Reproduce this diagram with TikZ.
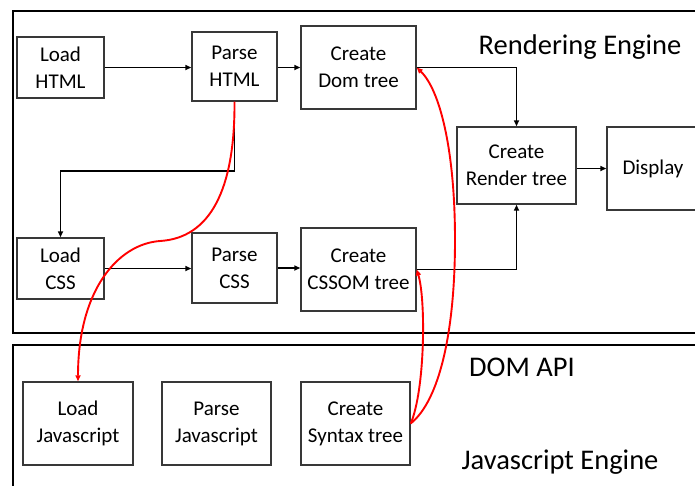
\documentclass[tikz,border=0pt]{standalone}
\usepackage{fontspec}
\setmainfont{Carlito}
\usetikzlibrary{arrows.meta}
\begin{document}
\begin{tikzpicture}[x=1pt,y=-1pt,
  stepbox/.style={draw=black!78,line width=1.4pt,fill=white,inner sep=0pt,align=center,
    font=\fontsize{21}{27}\selectfont},
  frame/.style={draw=black,line width=2.3pt},
  arr/.style={draw=black,line width=1.9pt,-{Triangle[length=6pt,width=5pt]}},
  redarr/.style={draw=red,line width=1.9pt,-{Triangle[length=6pt,width=5pt]}},
  title/.style={font=\fontsize{28.5}{34}\selectfont}]
\useasboundingbox (0,0) rectangle (695,485);

% engine frames
\draw[frame] (13,11) rectangle (730,333);
\draw[frame] (13,345) rectangle (730,520);

% rendering engine steps
\node[stepbox,minimum width=87pt,minimum height=61pt] (lhtml) at (60.5,67.5) {Load\\HTML};
\node[stepbox,minimum width=85pt,minimum height=69pt] (phtml) at (234.5,66.5) {Parse\\HTML};
\node[stepbox,minimum width=115pt,minimum height=83pt] (dom) at (358.5,67.5) {Create\\Dom tree};
\node[stepbox,minimum width=119pt,minimum height=77pt] (render) at (516.5,165.5) {Create\\Render tree};
\node[stepbox,minimum width=92pt,minimum height=83pt] (display) at (653,168.5) {Display};
\node[stepbox,minimum width=87pt,minimum height=61pt] (lcss) at (60.5,268.5) {Load\\CSS};
\node[stepbox,minimum width=85pt,minimum height=70pt] (pcss) at (234.5,268) {Parse\\CSS};
\node[stepbox,minimum width=115pt,minimum height=83pt] (cssom) at (358.5,269.5) {Create\\CSSOM tree};

% javascript engine steps
\node[stepbox,minimum width=110pt,minimum height=83pt] (ljs) at (78,423.5) {Load\\Javascript};
\node[stepbox,minimum width=109pt,minimum height=83pt] (pjs) at (216.5,423.5) {Parse\\Javascript};
\node[stepbox,minimum width=109pt,minimum height=83pt] (syn) at (355.5,423.5) {Create\\Syntax tree};

% labels
\node[title] (tre) at (580,47) {Rendering Engine};
\node[title] (tdom) at (522,367) {DOM API};
\node[title] (tjs) at (560,462) {Javascript Engine};

% black flow
\draw[arr] (lhtml.east) -- (lhtml.east -| phtml.west);
\draw[arr] (dom.west -| phtml.east) -- (dom.west);
\draw[arr] (phtml.south) -- ++(0,69) -| (lcss.north);
\draw[arr] (lcss.east) -- (lcss.east -| pcss.west);
\draw[arr] (pcss.east) -- (pcss.east -| cssom.west);
\draw[arr] (dom.east) -| (render.north);
\draw[arr] (cssom.east) -| (render.south);
\draw[arr] (display.west -| render.east) -- (display.west);

% red links through the DOM API
\draw[redarr] (phtml.south) .. controls (235,190) and (210,238) .. (160,241)
  .. controls (118,244) and (78,290) .. (ljs.north);
\draw[redarr] (syn.east) .. controls (440,400) and (455,330) .. (455,240)
  .. controls (455,150) and (440,90) .. (dom.east);
\draw[redarr] (syn.east) .. controls (425,390) and (426,300) .. (cssom.east);
\end{tikzpicture}
\end{document}
